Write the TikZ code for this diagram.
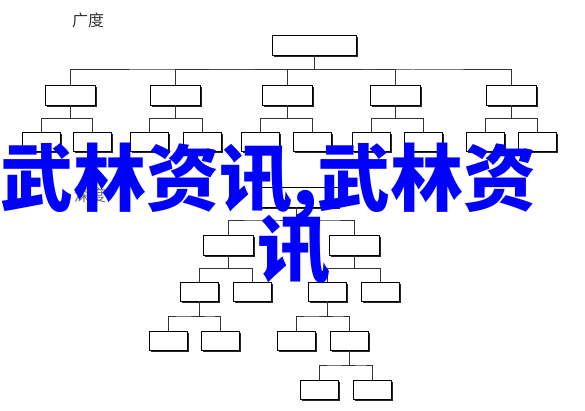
\documentclass[tikz,border=0pt]{standalone}
\usepackage{fontspec}
\newfontfamily\cjk{Noto Sans CJK SC}
\usetikzlibrary{calc,shadows}
\tikzset{
  boxbase/.style={draw=black, line width=0.9pt, fill=white, inner sep=0pt,
    general shadow={fill=black!85, shadow xshift=2.4pt, shadow yshift=-2.4pt}},
  bigbox/.style={boxbase, minimum width=84pt, minimum height=20pt},
  midbox/.style={boxbase, minimum width=50pt, minimum height=20pt},
  smallbox/.style={boxbase, minimum width=38pt, minimum height=19pt},
  orgline/.style={draw=black!80, line width=1pt,
    to path={(\tikztostart) |- ($(\tikztostart)!.5!(\tikztotarget)$) -| (\tikztotarget)}},
  wmark/.style={anchor=base west, inner sep=0pt, text=blue,
    font=\cjk\bfseries\fontsize{73}{73}\selectfont},
  label/.style={anchor=base west, inner sep=0pt, font=\cjk\fontsize{16}{16}\selectfont}
}
\begin{document}
\begin{tikzpicture}[x=1pt,y=-1pt]
\fill[white] (0,0) rectangle (585,411);
\useasboundingbox (0,0) rectangle (585,411);

% labels
\node[label, text=black!80] (lab1) at (72,27) {广度};
\node[label, text=black!55] (lab2) at (74,202) {深度};

% ---------- top tree (breadth) ----------
\node[bigbox] (T0) at (314,45) {};
\foreach \n/\x in {T1/70, T2/175, T3/287, T4/395, T5/511}
  \node[midbox] (\n) at (\x,95) {};
\foreach \n/\x in {T1a/41, T1b/92, T2a/149, T2b/202, T3a/260, T3b/312,
                   T4a/371, T4b/423, T5a/485, T5b/537}
  \node[smallbox] (\n) at (\x,141.5) {};

\foreach \c in {T1,T2,T3,T4,T5}
  \draw[orgline] (T0.south) to (\c.north);
\foreach \p in {T1,T2,T3,T4,T5}{
  \draw[orgline] (\p.south) to (\p a.north);
  \draw[orgline] (\p.south) to (\p b.north);
}

% ---------- bottom tree (depth) ----------
\node[bigbox] (B0) at (296,197) {};
\node[midbox] (B1) at (228,245) {};
\node[midbox] (B2) at (354,245) {};
\node[smallbox] (B1a) at (199,291.5) {};
\node[smallbox] (B1b) at (252,291.5) {};
\node[smallbox] (B2a) at (327,291.5) {};
\node[smallbox] (B2b) at (380,291.5) {};
\node[smallbox] (B1aa) at (168,340.5) {};
\node[smallbox] (B1ab) at (220,340.5) {};
\node[smallbox] (B2aa) at (296,340.5) {};
\node[smallbox] (B2ab) at (349,340.5) {};
\node[smallbox] (B2aba) at (319,389.5) {};
\node[smallbox] (B2abb) at (372,389.5) {};

\draw[orgline] (B0.south) to (B1.north);
\draw[orgline] (B0.south) to (B2.north);
\draw[orgline] (B1.south) to (B1a.north);
\draw[orgline] (B1.south) to (B1b.north);
\draw[orgline] (B2.south) to (B2a.north);
\draw[orgline] (B2.south) to (B2b.north);
\draw[orgline] (B1a.south) to (B1aa.north);
\draw[orgline] (B1a.south) to (B1ab.north);
\draw[orgline] (B2a.south) to (B2aa.north);
\draw[orgline] (B2a.south) to (B2ab.north);
\draw[orgline] (B2ab.south) to (B2aba.north);
\draw[orgline] (B2ab.south) to (B2abb.north);

% ---------- watermark text ----------
\node[wmark] (wm1) at (0,206) {武林资讯,武林资};
\node[wmark] (wm2) at (257,276) {讯};
\end{tikzpicture}
\end{document}
